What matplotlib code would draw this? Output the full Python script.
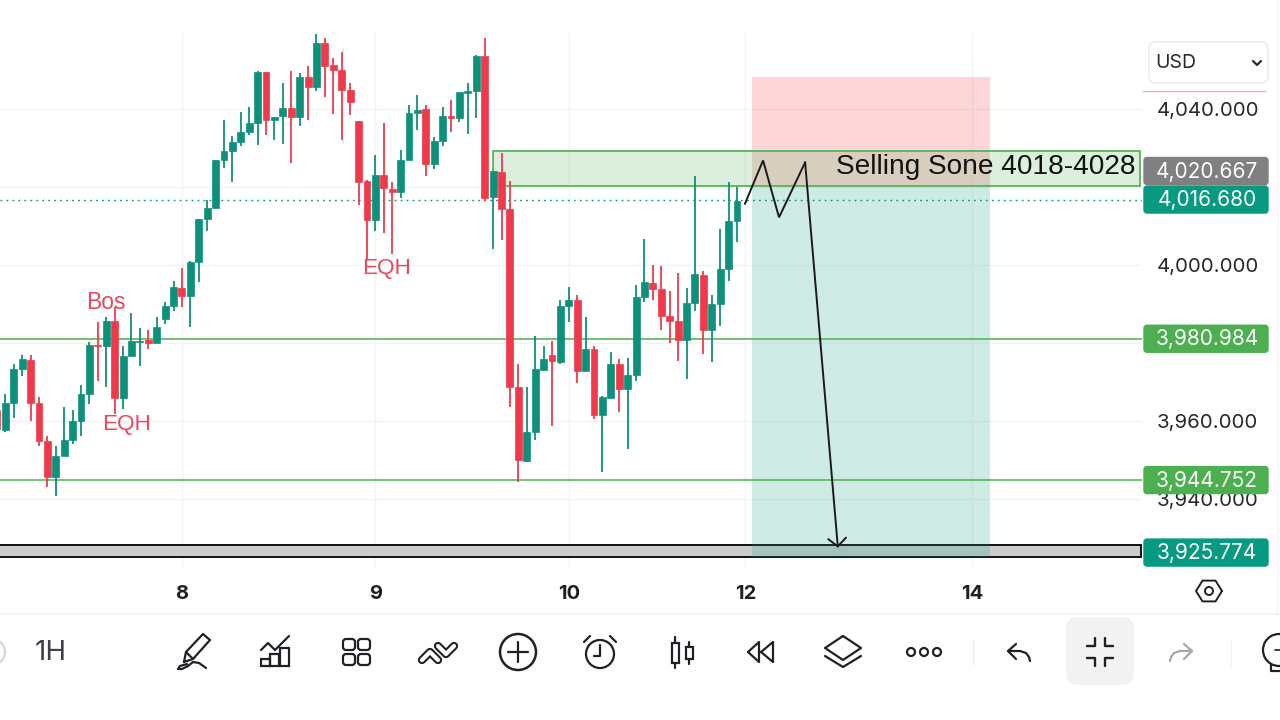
import numpy as np
import matplotlib
matplotlib.use("Agg")
import matplotlib.pyplot as plt
from matplotlib.patches import Rectangle, Circle, FancyBboxPatch, Arc

# hourly candles, oldest first
opens = [3962.6, 3957.6, 3964.5, 3973.2, 3975.6, 3964.5, 3954.7, 3945.5, 3951.0, 3954.9,
         3959.8, 3966.7, 3979.4, 3979.0, 3985.6, 3965.8, 3976.5, 3980.2, 3980.7, 3979.8,
         3986.1, 3989.3, 3994.0, 3992.0, 4000.6, 4011.6, 4014.4, 4026.7, 4029.0, 4031.5,
         4034.1, 4036.3, 4049.3, 4037.2, 4038.0, 4040.1, 4037.8, 4048.2, 4045.5, 4056.7,
         4051.3, 4050.0, 4044.7, 4036.8, 4021.4, 4011.4, 4023.0, 4019.5, 4018.5, 4026.8,
         4038.8, 4039.9, 4025.8, 4031.6, 4038.2, 4037.6, 4044.1, 4044.4, 4053.4, 4017.3,
         4023.7, 4014.3, 3968.7, 3949.7, 3957.0, 3973.0, 3976.8, 3975.0, 3989.5, 3991.0,
         3972.8, 3978.4, 3961.5, 3965.9, 3974.5, 3968.1, 3971.8, 3991.8, 3995.4, 3993.8,
         3986.8, 3985.5, 3980.7, 3990.1, 3997.4, 3983.3, 3989.9, 3998.9, 4011.3]
highs = [3963.0, 3966.7, 3974.6, 3976.8, 3976.7, 3966.0, 3956.0, 3953.6, 3963.4, 3962.6,
         3969.0, 3980.1, 3985.4, 3986.5, 3989.1, 3979.2, 3987.6, 3983.8, 3983.2, 3986.5,
         3990.5, 3995.9, 3999.1, 4000.9, 4011.6, 4016.6, 4026.8, 4037.1, 4032.9, 4039.1,
         4040.5, 4049.6, 4049.3, 4037.9, 4046.5, 4049.6, 4049.1, 4050.8, 4059.0, 4058.0,
         4053.0, 4054.6, 4046.6, 4036.9, 4021.7, 4028.0, 4036.3, 4021.3, 4029.5, 4041.0,
         4043.6, 4040.9, 4032.6, 4040.3, 4042.2, 4044.2, 4046.6, 4053.8, 4058.0, 4023.9,
         4028.6, 4021.5, 3974.4, 3968.6, 3981.8, 3979.0, 3980.5, 3991.0, 3994.2, 3992.2,
         3986.5, 3979.0, 3966.4, 3977.5, 3975.8, 3976.1, 3994.8, 4006.5, 3999.9, 3999.7,
         3993.3, 3997.9, 3994.1, 4022.8, 3998.3, 3992.1, 4009.0, 4021.3, 4020.0]
lows = [3957.4, 3957.0, 3960.7, 3971.4, 3959.8, 3953.4, 3942.9, 3940.6, 3951.0, 3954.0,
        3956.1, 3964.3, 3970.1, 3968.6, 3961.7, 3963.0, 3976.5, 3974.1, 3978.4, 3979.8,
        3984.8, 3988.2, 3989.1, 3984.1, 3995.5, 4008.7, 4014.4, 4024.7, 4021.3, 4030.3,
        4033.1, 4030.7, 4033.3, 4032.0, 4030.9, 4026.1, 4035.6, 4037.1, 4044.4, 4042.9,
        4038.6, 4032.0, 4038.4, 4015.4, 4001.5, 4008.5, 4008.1, 4002.6, 4017.0, 4026.8,
        4034.4, 4022.6, 4024.5, 4030.3, 4034.1, 4036.5, 4033.5, 4037.5, 4016.4, 4004.0,
        4006.4, 3963.6, 3944.2, 3949.5, 3955.1, 3973.0, 3958.6, 3974.4, 3985.4, 3969.7,
        3972.8, 3960.4, 3946.8, 3965.9, 3962.3, 3952.6, 3970.1, 3990.3, 3990.8, 3983.1,
        3979.9, 3975.4, 3970.7, 3988.0, 3977.1, 3975.1, 3984.2, 3995.7, 4005.9]
closes = [3957.9, 3964.5, 3973.2, 3975.8, 3964.5, 3954.7, 3945.5, 3951.0, 3955.1, 3959.8,
          3966.7, 3979.4, 3979.1, 3985.5, 3965.8, 3976.5, 3980.5, 3980.5, 3980.0, 3983.9,
          3989.3, 3994.2, 3992.0, 4000.6, 4011.6, 4014.4, 4026.7, 4029.0, 4031.5, 4034.1,
          4036.2, 4049.3, 4037.1, 4037.9, 4040.1, 4037.8, 4048.2, 4045.5, 4056.7, 4051.0,
          4049.9, 4044.7, 4041.8, 4021.3, 4011.4, 4023.0, 4019.6, 4018.5, 4026.8, 4038.8,
          4039.7, 4025.8, 4031.6, 4038.0, 4037.5, 4044.2, 4044.4, 4053.4, 4017.1, 4023.9,
          4014.3, 3968.7, 3950.0, 3957.0, 3973.3, 3975.9, 3975.2, 3989.5, 3991.0, 3972.8,
          3978.4, 3961.5, 3966.0, 3974.5, 3968.1, 3971.8, 3991.6, 3995.6, 3993.8, 3986.8,
          3985.6, 3980.7, 3990.1, 3997.6, 3983.3, 3989.9, 3998.9, 4011.1, 4016.4]

day_ticks = [22, 45, 68, 89, 116]
day_labels = ["8", "9", "10", "12", "14"]
price_ticks = [3940, 3960, 3980, 4000, 4020, 4040]
price_shown = [3940, 3960, 4000, 4040]

last_price = 4016.680
support_upper = 3980.984
support_lower = 3944.752
target_price = 3925.774
zone_price = 4020.667

sell_zone = (4020.1, 4029.2)
target_band = (3925.1, 3928.2)
position_top = 4048.0
position_entry = 4020.1
position_bottom = 3925.1

path_x = [88.95, 91.1, 93.0, 96.1]
path_y = [4015.6, 4026.7, 4012.1, 4026.2]
arrow_tip = (100.0, 3927.4)

GREEN = "#089981"
RED = "#F23645"
CANDLE_GREEN = "#0E917A"
CANDLE_RED = "#F03A4C"
LINE_GREEN = "#4CAF50"
NOTE_RED = "#E8485C"
GRID = "#F3F3F3"
INK = "#1E2126"
UI_FONT = ["Inter", "DejaVu Sans"]

fig = plt.figure(figsize=(12.8, 7.2), dpi=100)
ax = fig.add_axes([0, (720 - 567) / 720, 1142 / 1280, (567 - 33) / 720])
ax.set_xlim(0.366, 136.16)
ax.set_ylim(3922.46, 4059.38)
for s in ax.spines.values():
    s.set_visible(False)

ax.yaxis.tick_right()
ax.set_yticks(price_ticks)
ax.set_yticklabels([f"{p:,.3f}" if p in price_shown else "" for p in price_ticks],
                   fontsize=14.7, family=UI_FONT, color="#26282C")
ax.set_xticks(day_ticks)
ax.set_xticklabels(day_labels, fontsize=14.5, family=UI_FONT, fontweight="bold", color=INK)
ax.tick_params(axis="y", length=0, pad=10.5)
ax.tick_params(axis="x", length=0, pad=13)
ax.grid(True, color=GRID, lw=1)
ax.set_axisbelow(True)

# target band sits under the position shading
ax.add_patch(Rectangle((0, target_band[0]), 136.1, target_band[1] - target_band[0],
                       fc="#CCCCCC", ec="#111111", lw=1.4, zorder=1))

# short position box, entry to stop and entry to target
ax.add_patch(Rectangle((89.8, position_entry), 28.25, position_top - position_entry,
                       fc=RED, alpha=0.2, lw=0, zorder=2))
ax.add_patch(Rectangle((89.8, position_bottom), 28.25, position_entry - position_bottom,
                       fc=GREEN, alpha=0.2, lw=0, zorder=2))

# supply zone
ax.add_patch(Rectangle((58.95, sell_zone[0]), 77.0, sell_zone[1] - sell_zone[0],
                       fc=LINE_GREEN, alpha=0.2, lw=0, zorder=2))
ax.add_patch(Rectangle((58.95, sell_zone[0]), 77.0, sell_zone[1] - sell_zone[0],
                       fc="none", ec=LINE_GREEN, lw=1.2, zorder=2.5))

for lvl in [support_upper, support_lower]:
    ax.axhline(lvl, color=LINE_GREEN, lw=1.1, zorder=2.5)
ax.axhline(last_price, color=GREEN, lw=1, ls=(0, (1.3, 3)), zorder=2.5)

# candles
for i in range(len(opens)):
    col = CANDLE_GREEN if closes[i] >= opens[i] else CANDLE_RED
    ax.vlines(i, lows[i], highs[i], color=col, lw=1.3, zorder=3)
    ax.bar(i, abs(closes[i] - opens[i]), bottom=min(opens[i], closes[i]), width=0.82,
           color=col, edgecolor=col, lw=0.5, zorder=3)

# hand drawn projection
ax.plot(path_x, path_y, color="#1A1A1A", lw=1.4, zorder=5, solid_joinstyle="miter")
ax.annotate("", xy=arrow_tip, xytext=(path_x[-1], path_y[-1]), zorder=5,
            arrowprops=dict(arrowstyle="->,head_length=0.29,head_width=0.32", color="#1A1A1A",
                            lw=1.4, mutation_scale=20, shrinkA=0, shrinkB=0))

note_font = "Liberation Sans"
ax.text(135.4, 4024.9, "Selling Sone 4018-4028", ha="right", va="center", fontsize=20.2,
        family=note_font, color="#111111", zorder=6)
ax.text(13.0, 3990.4, "Bos", ha="center", va="center", fontsize=16.5, family=note_font,
        color=NOTE_RED, zorder=6)
ax.text(15.35, 3959.1, "EQH", ha="center", va="center", fontsize=16.2, family=note_font,
        color=NOTE_RED, zorder=6)
ax.text(46.3, 3999.0, "EQH", ha="center", va="center", fontsize=16.2, family=note_font,
        color=NOTE_RED, zorder=6)

# everything below is chart furniture, laid out in screen pixels
ui = fig.add_axes([0, 0, 1, 1], zorder=10)
ui.set_xlim(0, 1280)
ui.set_ylim(720, 0)
ui.axis("off")
ui.patch.set_alpha(0)


def stroke(pts, col=INK, lw=1.6, closed=False):
    xs, ys = zip(*pts)
    if closed:
        xs, ys = xs + xs[:1], ys + ys[:1]
    ui.plot(xs, ys, color=col, lw=lw, solid_capstyle="round", solid_joinstyle="round")


def price_tag(value, col, yc):
    ui.add_patch(FancyBboxPatch((1144, yc - 13.5), 124, 27, boxstyle="round,pad=0,rounding_size=3",
                                fc=col, ec=col, lw=1))
    ui.text(1207, yc + 0.5, f"{value:,.3f}", color="white", ha="center", va="center",
            fontsize=15, family=UI_FONT)


def to_px(price):
    return ui.transData.inverted().transform(ax.transData.transform((0, price)))[1]


price_tag(zone_price, "#808080", 171)
price_tag(last_price, GREEN, to_px(last_price))
price_tag(support_upper, LINE_GREEN, to_px(support_upper))
price_tag(support_lower, LINE_GREEN, to_px(support_lower))
price_tag(target_price, GREEN, to_px(target_price) - 1.5)

ui.plot([1143, 1265], [91, 91], color="#EFAEB5", lw=1)
ui.add_patch(FancyBboxPatch((1149, 42), 119, 41, boxstyle="round,pad=0,rounding_size=7",
                            fc="white", ec="#ECECEC", lw=1.2))
ui.text(1155, 62.5, "USD", ha="left", va="center", fontsize=14, family=UI_FONT, color="#26282C")
stroke([(1253, 61), (1257, 65), (1261, 61)], lw=1.5)

# settings hexagon
ang = np.radians(np.arange(0, 360, 60))
stroke(list(zip(1209 + 13 * np.cos(ang), 591 + 12 * np.sin(ang))), lw=1.4, closed=True)
ui.add_patch(Circle((1209, 591), 4, fc="none", ec=INK, lw=1.4))

ui.plot([0, 1280], [614, 614], color="#F1F1F1", lw=1.2)
ui.plot([1277, 1277], [0, 614], color="#F4F4F4", lw=1)
ui.plot([973, 973], [640, 665], color="#F0F0F0", lw=1)
ui.plot([1231, 1231], [640, 665], color="#F0F0F0", lw=1)

ui.add_patch(Circle((-8, 652), 13, fc="none", ec="#D5D5D5", lw=1.6))
ui.text(50.5, 652.5, "1H", ha="center", va="center", fontsize=20, family=UI_FONT,
        color="#3E4146")

# pen
stroke([(184, 662), (186, 652), (203, 634), (210, 640), (193, 659)], closed=True)
stroke([(186, 652), (193, 659)])
stroke([(187, 664), (180, 666), (178, 669), (182, 669), (188, 666), (193, 662), (199, 663),
        (206, 668)])

# indicators
stroke([(261, 650), (268, 643), (275, 650), (289, 636)])
for bx, by in [(261, 659), (270, 654), (280, 648)]:
    ui.add_patch(Rectangle((bx, by), 9, 666 - by, fc="none", ec=INK, lw=1.6))

# layouts
for gx in [343, 358]:
    for gy in [639, 654]:
        ui.add_patch(FancyBboxPatch((gx, gy), 12, 11, boxstyle="round,pad=0,rounding_size=3",
                                    fc="none", ec=INK, lw=1.6))

# chevrons, dark stroke with a white core
for pts in [[(422, 660), (430, 652), (438, 660)], [(438, 646), (446, 654), (454, 646)]]:
    xs, ys = zip(*pts)
    ui.plot(xs, ys, color=INK, lw=6, solid_capstyle="round", solid_joinstyle="round")
    ui.plot(xs, ys, color="white", lw=3, solid_capstyle="round", solid_joinstyle="round")

# add
ui.add_patch(Circle((518, 652), 18, fc="none", ec=INK, lw=1.8))
stroke([(508, 652), (528, 652)])
stroke([(518, 642), (518, 662)])

# alarm
ui.add_patch(Circle((600, 654), 14, fc="none", ec=INK, lw=1.6))
stroke([(600, 645), (600, 656), (594, 656)])
stroke([(584, 642), (590, 636)])
stroke([(610, 636), (616, 642)])

# candle style
for cx, wt, wb, bt, bb in [(675, 637, 668, 643, 663), (689, 642, 664, 647, 659)]:
    stroke([(cx, wt), (cx, bt)])
    stroke([(cx, bb), (cx, wb)])
    ui.add_patch(Rectangle((cx - 3.5, bt), 7, bb - bt, fc="none", ec=INK, lw=1.6))

# replay
stroke([(748, 652), (759, 642), (759, 662)], closed=True)
stroke([(761, 652), (773, 642), (773, 662)], closed=True)

# layers
stroke([(843, 636), (861, 648), (843, 660), (825, 648)], closed=True)
stroke([(825, 656), (843, 667), (861, 656)])

# more
for dx in [911, 924, 937]:
    ui.add_patch(Circle((dx, 652), 4, fc="none", ec=INK, lw=1.6))

# undo and redo
stroke([(1016, 644), (1008, 651), (1016, 659)])
stroke([(1008, 651), (1020, 651), (1026, 653), (1029, 657), (1030, 661)])
stroke([(1184, 644), (1192, 651), (1184, 659)], col="#A8A8A8")
stroke([(1192, 651), (1180, 651), (1174, 653), (1171, 657), (1170, 661)], col="#A8A8A8")

# collapse, highlighted button
ui.add_patch(FancyBboxPatch((1066, 617), 68, 68, boxstyle="round,pad=0,rounding_size=12",
                            fc="#F2F2F2", ec="none"))
stroke([(1095, 638), (1095, 646), (1087, 646)], lw=1.7)
stroke([(1105, 638), (1105, 646), (1113, 646)], lw=1.7)
stroke([(1087, 658), (1095, 658), (1095, 666)], lw=1.7)
stroke([(1113, 658), (1105, 658), (1105, 666)], lw=1.7)

# bulb cut off by the screen edge
ui.add_patch(Arc((1279, 650), 32, 32, theta1=60, theta2=300, ec=INK, lw=1.6))
stroke([(1271, 664), (1271, 671), (1280, 671)])
stroke([(1275, 650), (1280, 650)], lw=1.2)

fig.savefig("out.png", dpi=100, facecolor="white")
